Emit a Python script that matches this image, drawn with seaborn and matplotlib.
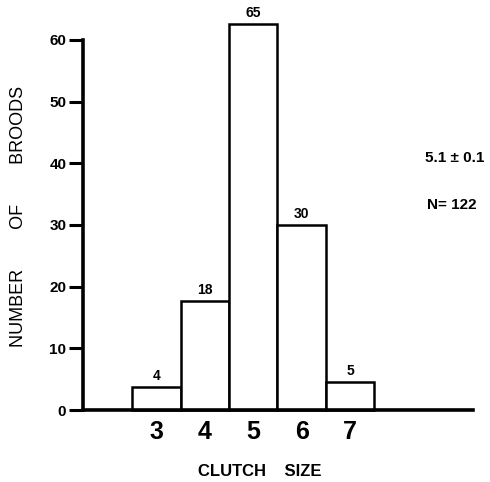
import matplotlib
matplotlib.use("Agg")
import matplotlib.pyplot as plt
import seaborn as sns
import pandas as pd

# Clutch size distribution (counts printed above the bars)
clutch_sizes = ["3", "4", "5", "6", "7"]
counts = [4, 18, 65, 30, 5]
# bar heights as drawn against the y axis of the original figure
bar_heights = [3.7, 17.7, 62.6, 30.0, 4.5]
y_ticks = [0, 10, 20, 30, 40, 50, 60]

sns.set_theme(style="white")
plt.rcParams['font.family'] = ['Liberation Sans', 'DejaVu Sans']
plt.rcParams['text.color'] = 'black'
plt.rcParams['axes.labelcolor'] = 'black'
plt.rcParams['xtick.color'] = 'black'
plt.rcParams['ytick.color'] = 'black'

df = pd.DataFrame({"clutch": clutch_sizes, "height": bar_heights, "count": counts})

W, H = 490, 482
fig = plt.figure(figsize=(W / 100, H / 100), dpi=100)
ax = fig.add_axes([83 / W, 1 - 410 / H, (473 - 83) / W, (410 - 40) / H])

sns.barplot(data=df, x="clutch", y="height", color="white", edgecolor="black",
            linewidth=1.8, width=1.0, saturation=1, ax=ax)
for p in ax.patches:
    p.set_clip_on(False)

# count labels above bars
for i, (h, c) in enumerate(zip(df["height"], df["count"])):
    ax.text(i, h + 0.7, str(c), ha="center", va="bottom", fontsize=10,
            fontweight="bold", clip_on=False)

ax.set_xlim(-1.515, 6.536)
ax.set_ylim(0, 60)
ax.set_yticks(y_ticks)
ax.set_yticklabels([str(t) for t in y_ticks], fontsize=11, fontweight="bold")
ax.tick_params(axis="y", direction="out", length=10, width=2.2, pad=2, left=True)
ax.tick_params(axis="x", length=0, pad=7)
for lbl in ax.get_xticklabels():
    lbl.set_fontsize(18)
    lbl.set_fontweight("bold")

sns.despine(ax=ax)
for side in ["left", "bottom"]:
    ax.spines[side].set_linewidth(2.6)
    ax.spines[side].set_color("black")

ax.set_xlabel("CLUTCH    SIZE", fontsize=12, fontweight="bold")
ax.set_ylabel("NUMBER        OF        BROODS", fontsize=13)
ax.xaxis.set_label_coords((260 - 83) / (473 - 83), -(471 - 410) / (410 - 40))
ax.xaxis.label.set_va("center")
ax.yaxis.set_label_coords(-(83 - 18.5) / (473 - 83), (410 - 216) / (410 - 40))
ax.yaxis.label.set_va("center")

fig.text(425 / W, 1 - 158 / H, "5.1 ± 0.1", ha="left", va="center",
         fontsize=11, fontweight="bold")
fig.text(427 / W, 1 - 205 / H, "N= 122", ha="left", va="center",
         fontsize=11, fontweight="bold")

fig.savefig("out.png", dpi=100)
